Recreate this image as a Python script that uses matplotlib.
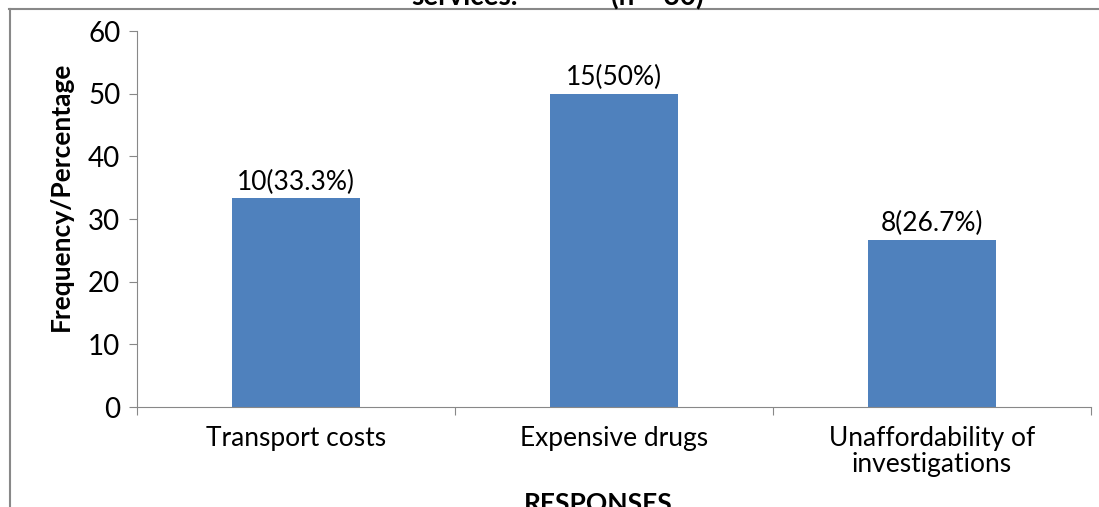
import matplotlib
matplotlib.use("Agg")
import matplotlib.pyplot as plt
from matplotlib.lines import Line2D

categories = ["Transport costs", "Expensive drugs", "Unaffordability of\ninvestigations"]
values = [33.3, 50, 26.7]
labels = ["10(33.3%)", "15(50%)", "8(26.7%)"]
yticks = [0, 10, 20, 30, 40, 50, 60]

plt.rcParams['font.family'] = ['Lato', 'DejaVu Sans']
W, H = 1099, 507
fig = plt.figure(figsize=(W/100, H/100), dpi=100)
ax = fig.add_axes([137/W, 1-407/H, (1091-137)/W, (407-31)/H])

x = list(range(len(categories)))
bars = ax.bar(x, values, width=0.4, color="#4F81BD", zorder=2)
for b, t in zip(bars, labels):
    ax.text(b.get_x()+b.get_width()/2, b.get_height()+0.6, t, ha='center', va='bottom', fontsize=19)

ax.set_xlim(-0.5, 2.5)
ax.set_ylim(0, 60)
ax.set_yticks(yticks)
ax.set_yticklabels([str(v) for v in yticks], fontsize=20)
ax.set_xticks([-0.5, 0.5, 1.5, 2.5])
ax.set_xticklabels([])
ax.tick_params(axis='x', direction='out', length=6, color='#888888')
ax.tick_params(axis='y', direction='out', length=6, color='#888888', pad=6)
for i, c in enumerate(categories):
    ax.text(i, -3.0, c, ha='center', va='top', fontsize=19, linespacing=1.05)
for s in ['top', 'right']:
    ax.spines[s].set_visible(False)
for s in ['left', 'bottom']:
    ax.spines[s].set_color('#888888')
ax.set_ylabel("Frequency/Percentage", fontsize=19, fontweight='bold')
ax.yaxis.set_label_coords(-0.067, 0.561)

fig.text(598/W, 1-512/H, "RESPONSES", ha='center', va='baseline', fontsize=19, fontweight='bold')
fig.text(465/W, 1-5/H, "services.", ha='center', va='baseline', fontsize=20, fontweight='bold')
fig.text(657/W, 1-5/H, "(n = 30)", ha='center', va='baseline', fontsize=20, fontweight='bold')

fig.add_artist(Line2D([9/W, 1], [1-8.5/H, 1-8.5/H], color='#888888', lw=1.5, transform=fig.transFigure))
fig.add_artist(Line2D([9.5/W, 9.5/W], [0, 1-8.5/H], color='#888888', lw=1.5, transform=fig.transFigure))

fig.savefig("out.png", dpi=100)
